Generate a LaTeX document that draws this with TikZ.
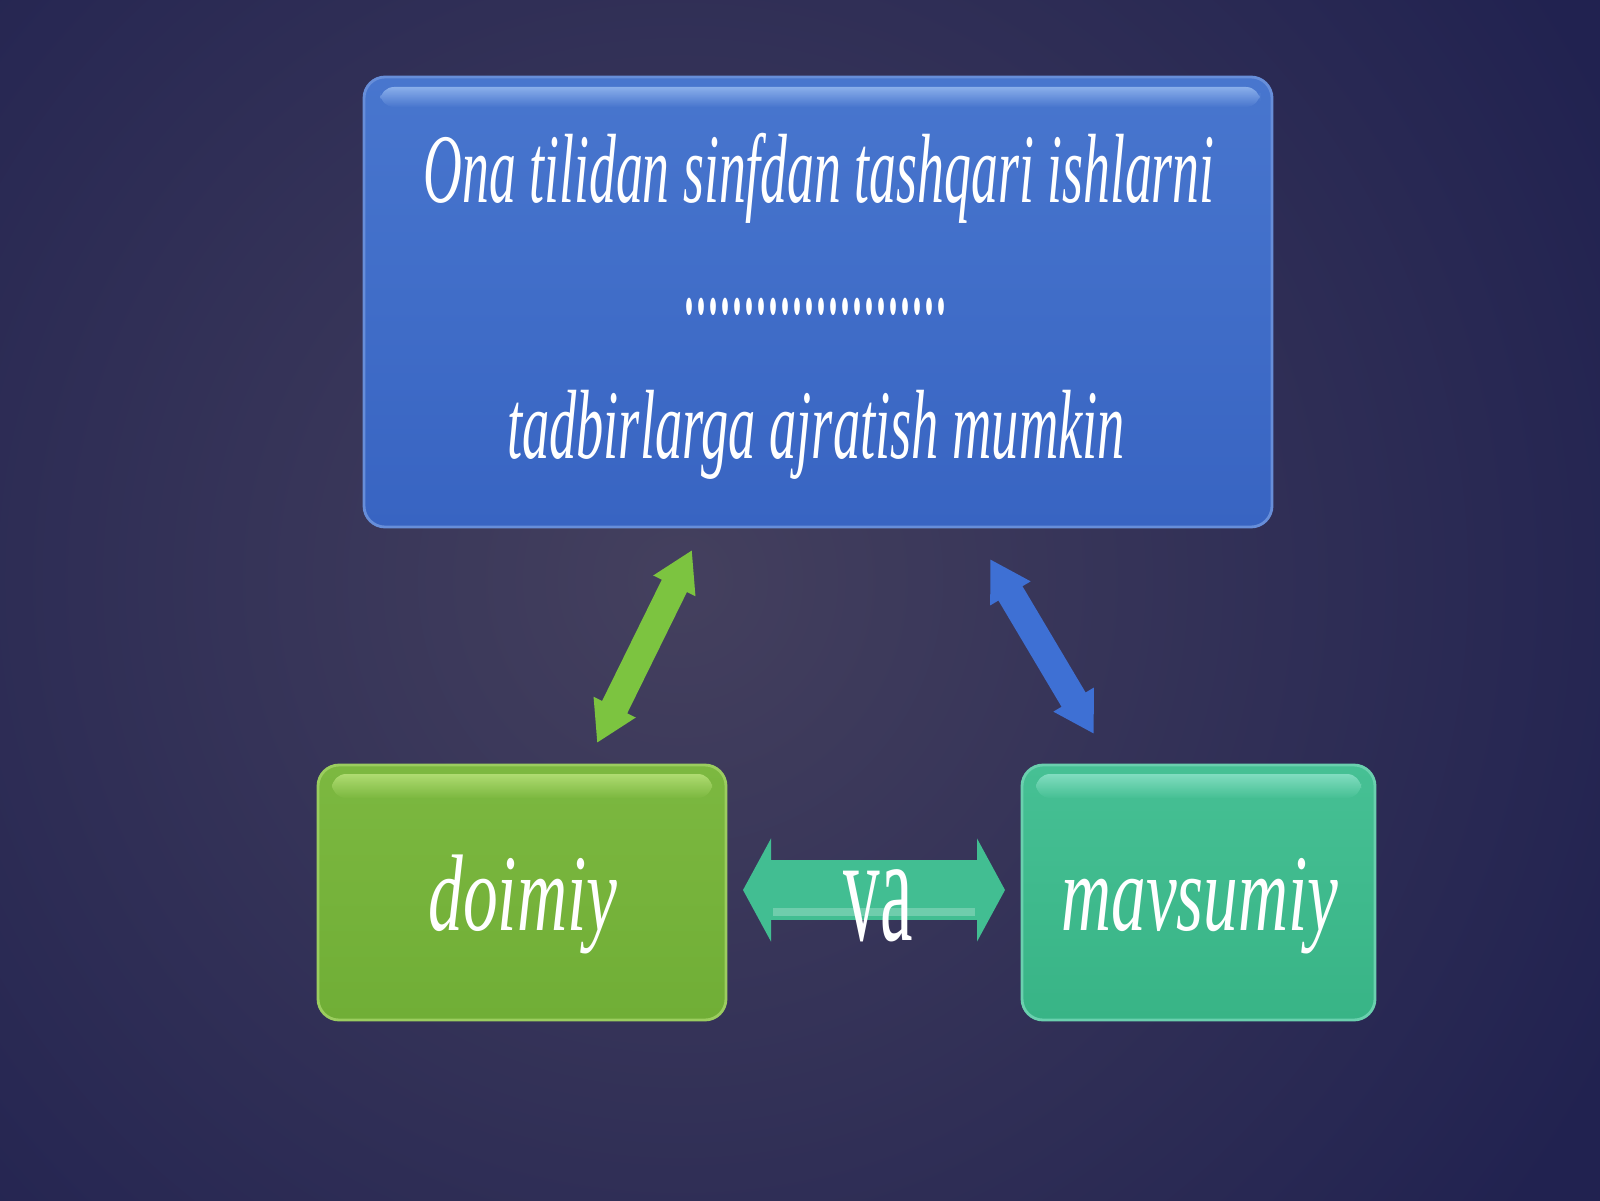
\documentclass[tikz,border=0pt]{standalone}
\usepackage{fontspec}
\setmainfont{Liberation Serif}
\usetikzlibrary{arrows.meta}
\definecolor{bgdark}{RGB}{33,34,80}
\definecolor{bgmid}{RGB}{68,64,94}
\definecolor{bluetop}{RGB}{72,118,206}
\definecolor{bluebot}{RGB}{56,100,194}
\definecolor{bluehi}{RGB}{150,185,240}
\definecolor{greentop}{RGB}{124,184,64}
\definecolor{greenbot}{RGB}{112,174,54}
\definecolor{greenhi}{RGB}{184,226,122}
\definecolor{tealtop}{RGB}{70,192,148}
\definecolor{tealbot}{RGB}{56,180,134}
\definecolor{tealhi}{RGB}{140,226,200}
\definecolor{garrow}{RGB}{124,196,64}
\definecolor{barrow}{RGB}{62,112,212}
\definecolor{tarrow}{RGB}{66,190,146}
\newcommand{\condtxt}[2]{\resizebox{#1}{\height}{#2}}
\tikzset{
  boxshape/.style={rounded corners=6pt, inner sep=0pt},
  hilite/.style={rounded corners=4pt, opacity=0.85},
  txt/.style={text=white, inner sep=0pt, anchor=base},
  dblarrow/.style n args={3}{line width=#1,
     {Triangle[width=#2,length=#3]}-{Triangle[width=#2,length=#3]}},
}
\begin{document}
\begin{tikzpicture}
\useasboundingbox (0,0) rectangle (16,12);
% background
\fill[bgdark] (-0.2,-0.2) rectangle (16.2,12.2);
\begin{scope}
  \clip (-0.2,-0.2) rectangle (16.2,12.2);
  \shade[inner color=bgmid, outer color=bgdark] (6.8,6.2) circle (10.5);
\end{scope}

% boxes
\node[boxshape, top color=bluetop, bottom color=bluebot, draw=bluehi!50!bluebot, line width=0.8pt,
      minimum width=9.08cm, minimum height=4.5cm] (top) at (8.18,8.98) {};
\shade[hilite, top color=bluehi, bottom color=bluetop] (3.80,11.13) rectangle (12.60,10.93);

\node[boxshape, top color=greentop, bottom color=greenbot, draw=greenhi!60!greenbot, line width=0.8pt,
      minimum width=4.08cm, minimum height=2.55cm] (green) at (5.22,3.075) {};
\shade[hilite, top color=greenhi, bottom color=greentop] (3.32,4.26) rectangle (7.12,4.02);

\node[boxshape, top color=tealtop, bottom color=tealbot, draw=tealhi!60!tealbot, line width=0.8pt,
      minimum width=3.53cm, minimum height=2.55cm] (teal) at (11.985,3.075) {};
\shade[hilite, top color=tealhi, bottom color=tealtop] (10.36,4.26) rectangle (13.61,4.02);

% texts in top box
\node[txt] (line1) at (8.19,9.97) {\condtxt{7.91cm}{\fontsize{28}{34}\selectfont\itshape Ona tilidan sinfdan tashqari ishlarni}};
\node[txt] (dots) at (8.15,8.87) {\condtxt{2.64cm}{\fontsize{42}{48}\selectfont ......................}};
\node[txt] (line3) at (8.16,7.42) {\condtxt{6.18cm}{\fontsize{28}{34}\selectfont\itshape tadbirlarga ajratish mumkin}};

% bottom texts
\node[txt] (doimiy) at (5.23,2.70) {\condtxt{1.89cm}{\fontsize{31}{36}\selectfont\itshape doimiy}};
\node[txt] (mavsumiy) at (12.0,2.70) {\condtxt{2.77cm}{\fontsize{31}{36}\selectfont\itshape mavsumiy}};

% connector end points
\coordinate (ga) at (6.92,6.50);
\coordinate (gb) at (5.97,4.57);
\coordinate (ba) at (9.90,6.41);
\coordinate (bb) at (10.94,4.66);
\coordinate (ma) at (7.43,3.10);
\coordinate (mb) at (10.05,3.10);

% arrows
\draw[garrow, dblarrow={0.28cm}{0.44cm}{0.40cm}] (ga) -- (gb);
\draw[barrow, dblarrow={0.28cm}{0.44cm}{0.40cm}] (ba) -- (bb);
\draw[tarrow, dblarrow={0.60cm}{1.02cm}{0.28cm}] (ma) -- (mb);
\draw[tarrow!60!white, line width=2pt, opacity=0.6] ([xshift=0.3cm,yshift=-0.22cm]ma) -- ([xshift=-0.3cm,yshift=-0.22cm]mb);

\node[txt] (va) at (8.78,2.60) {\condtxt{0.69cm}{\fontsize{43}{48}\selectfont va}};
\end{tikzpicture}
\end{document}
